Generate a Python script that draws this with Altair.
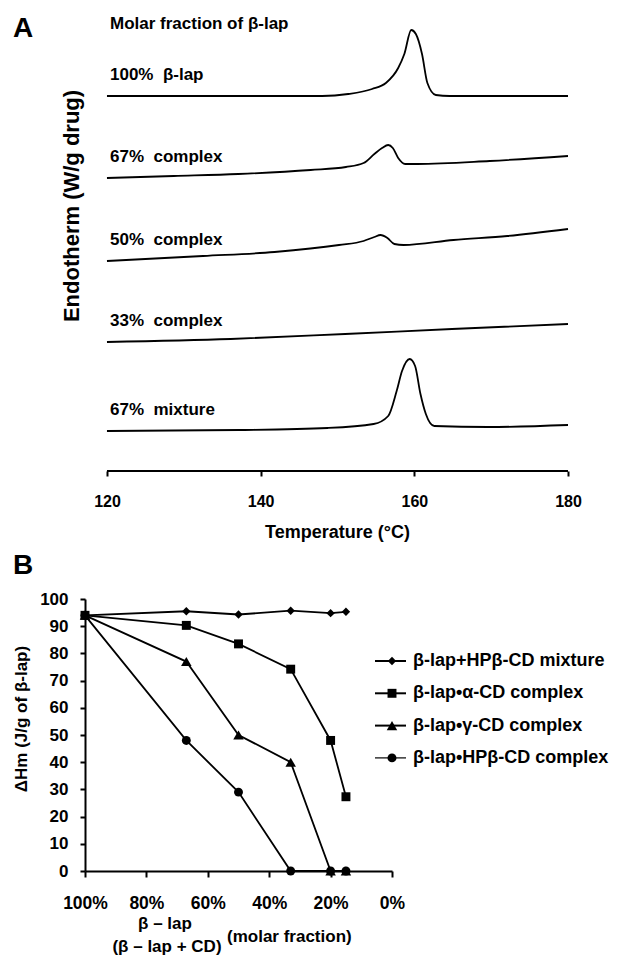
import altair as alt
import pandas as pd

FONT = "Liberation Sans"

# ---------------- Panel A: DSC thermograms (offset endotherm, a.u.) ----------------
curve_names = ["100%\u00a0 β-lap", "67%\u00a0 complex", "50%\u00a0 complex", "33%\u00a0 complex", "67%\u00a0 mixture"]

t_100 = [120, 148.0, 151.4, 154.5, 156.3, 157.9, 158.7, 159.6, 160.2, 161.0, 161.7, 162.8, 164.6, 180]
e_100 = [37.5, 37.5, 37.7, 38.2, 38.8, 40.3, 41.7, 44.1, 43.7, 41.7, 38.8, 37.6, 37.5, 37.5]

t_67c = [120, 128.7, 137.1, 146.5, 151.1, 153.4, 154.8, 155.8, 156.6, 157.2, 157.9, 158.8, 160.4, 169.8, 180]
e_67c = [29.3, 29.5, 29.7, 30.1, 30.4, 30.8, 31.7, 32.3, 32.6, 32.3, 31.3, 30.7, 30.7, 31.0, 31.5]

t_50c = [120, 132.5, 141.8, 150.2, 153.4, 154.8, 155.6, 156.5, 157.4, 158.6, 165.1, 172.1, 180]
e_50c = [21.0, 21.5, 21.9, 22.6, 23.0, 23.4, 23.6, 23.3, 22.7, 22.6, 23.1, 23.5, 24.2]

t_33c = [120, 136.1, 151.0, 164.9, 180]
e_33c = [12.9, 13.2, 13.7, 14.2, 14.7]

t_67m = [120, 137.1, 148.7, 154.7, 156.6, 157.7, 158.4, 159.4, 160.1, 160.8, 161.5, 162.6, 169.6, 180]
e_67m = [4.0, 4.1, 4.3, 4.7, 5.5, 8.0, 10.0, 11.2, 10.5, 7.7, 5.7, 4.5, 4.4, 4.6]

temp_ticks = [120, 140, 160, 180]

# ---------------- Panel B: enthalpy vs molar fraction ----------------
frac = [100, 67, 50, 33, 20, 15]
frac_ticks = [100, 80, 60, 40, 20, 0]
dh_ticks = [0, 10, 20, 30, 40, 50, 60, 70, 80, 90, 100]
series = ["β-lap+HPβ-CD mixture", "β-lap•α-CD complex", "β-lap•γ-CD complex", "β-lap•HPβ-CD complex"]
dh_mix = [94.0, 95.5, 94.3, 95.7, 94.8, 95.3]
dh_alpha = [94.0, 90.3, 83.5, 74.2, 48.0, 27.3]
dh_gamma = [94.0, 77.0, 50.0, 40.0, 0.0, 0.0]
dh_hp = [94.0, 48.0, 29.0, 0.0, 0.0, 0.0]

# ---------------- build tables ----------------
rowsA = []
for name, ts, es in zip(curve_names,
                        [t_100, t_67c, t_50c, t_33c, t_67m],
                        [e_100, e_67c, e_50c, e_33c, e_67m]):
    for k, (t, e) in enumerate(zip(ts, es)):
        rowsA.append({"curve": name, "T": t, "E": e, "k": k})
dfA = pd.DataFrame(rowsA)
dfA_first = dfA[dfA["k"] == 0]
axisA = pd.DataFrame({"T": [temp_ticks[0]], "T1": [temp_ticks[-1]], "E": [0]})

rowsB = []
for name, vals in zip(series, [dh_mix, dh_alpha, dh_gamma, dh_hp]):
    for f, v in zip(frac, vals):
        rowsB.append({"series": name, "frac": f, "dh": v})
dfB = pd.DataFrame(rowsB)

# ---------------- styling ----------------
WA, HA = 483, 455
WB, HB = 307, 272
shapes = ["diamond", "square", "triangle-up", "circle"]
sizes = [70, 80, 110, 80]
BOLD = dict(font=FONT, fontWeight="bold", color="black")

scaleTA = alt.Scale(domain=[117.14, 180], nice=False, zero=False)
scaleEA = alt.Scale(domain=[0, 45.5], nice=False, zero=False)
axisTA = alt.Axis(values=temp_ticks, title=None, domain=False, grid=False, labelFlush=False,
                  tickSize=5, tickWidth=2, tickColor="black",
                  labelFont=FONT, labelFontSize=16, labelFontWeight="bold", labelColor="black",
                  labelPadding=17)
xA = alt.X("T:Q", scale=scaleTA, axis=axisTA)
yA = alt.Y("E:Q", scale=scaleEA, axis=None)

linesA = alt.Chart(dfA).mark_line(color="black", strokeWidth=1.8, interpolate="monotone").encode(
    x=xA, y=yA, detail="curve:N", order="k:Q")
ruleA = alt.Chart(axisA).mark_rule(color="black", strokeWidth=2).encode(
    x=xA, x2="T1:Q", y=yA)
labelsA = alt.Chart(dfA_first).mark_text(align="left", baseline="middle", dx=3, dy=-21,
                                         fontSize=17, **BOLD).encode(
    x=xA, y=yA, text="curve:N")

notesA = [
    ("A", -72, 13, 28, "left", 0),
    ("Molar fraction of β-lap", 25, 8, 17, "left", 0),
    ("Endotherm (W/g drug)", -13, 190, 22, "center", 270),
    ("Temperature (°C)", 252.5, 517, 18, "center", 0),
]
layersA = [linesA, ruleA, labelsA]
for txt, px, py, fs, al, ang in notesA:
    layersA.append(alt.Chart(pd.DataFrame({"t": [txt]})).mark_text(
        align=al, baseline="middle", angle=ang, fontSize=fs, **BOLD).encode(
        x=alt.value(px), y=alt.value(py), text="t:N"))

chartA = alt.layer(*layersA).properties(width=WA, height=HA)

xB = alt.X("frac:Q", scale=alt.Scale(domain=[0, 100], reverse=True, nice=False),
           axis=alt.Axis(values=frac_ticks, labelExpr="datum.value + '%'", title=None, grid=False,
                         labelOverlap=False, labelFlush=False,
                         domainColor="black", domainWidth=2, tickColor="black", tickWidth=2, tickSize=6,
                         labelFont=FONT, labelFontSize=17.5, labelFontWeight="bold", labelColor="black",
                         labelPadding=17))
yB = alt.Y("dh:Q", scale=alt.Scale(domain=[0, 100], nice=False),
           axis=alt.Axis(values=dh_ticks, title=None, grid=False, labelOverlap=False, labelFlush=False,
                         domainColor="black", domainWidth=2, tickColor="black", tickWidth=2, tickSize=5,
                         labelFont=FONT, labelFontSize=17, labelFontWeight="bold", labelColor="black",
                         labelPadding=12))

layersB = [alt.Chart(dfB).mark_line(color="black", strokeWidth=1.8).encode(x=xB, y=yB, detail="series:N")]
for i, name in enumerate(series):
    layersB.append(alt.Chart(dfB).transform_filter(alt.datum.series == name).mark_point(
        shape=shapes[i], size=sizes[i], filled=True, color="black", opacity=1).encode(x=xB, y=yB))

leg_y0, leg_dy = 62, 32.3
for i, name in enumerate(series):
    one = pd.DataFrame({"t": [name]})
    yy = leg_y0 + i * leg_dy
    layersB.append(alt.Chart(one).mark_rule(color="black", strokeWidth=2 if i < 3 else 1.2).encode(
        x=alt.value(290), x2=alt.value(321), y=alt.value(yy)))
    layersB.append(alt.Chart(one).mark_point(shape=shapes[i], size=sizes[i], filled=True,
                                             color="black", opacity=1).encode(
        x=alt.value(307), y=alt.value(yy)))
    layersB.append(alt.Chart(one).mark_text(align="left", baseline="middle", fontSize=18, **BOLD).encode(
        x=alt.value(328), y=alt.value(yy), text="t:N"))

notesB = [
    ("B", -72, -33, 28, "left", 0),
    ("ΔHm (J/g of β-lap)", -63, 120, 17, "center", 270),
    ("β – lap", 80, 325, 17, "center", 0),
    ("(β – lap + CD)", 82, 348, 17, "center", 0),
    ("(molar fraction)", 142, 338, 17, "left", 0),
]
for txt, px, py, fs, al, ang in notesB:
    layersB.append(alt.Chart(pd.DataFrame({"t": [txt]})).mark_text(
        align=al, baseline="middle", angle=ang, fontSize=fs, **BOLD).encode(
        x=alt.value(px), y=alt.value(py), text="t:N"))

chartB = alt.layer(*layersB).properties(width=WB, height=HB)

chart = alt.vconcat(chartA, chartB, spacing=10).properties(
    padding={"left": 5, "top": 7, "right": 0, "bottom": 0}
).configure(font=FONT).configure_view(stroke=None)

chart.save("out.html", embed_options={"renderer": "svg", "actions": False})
